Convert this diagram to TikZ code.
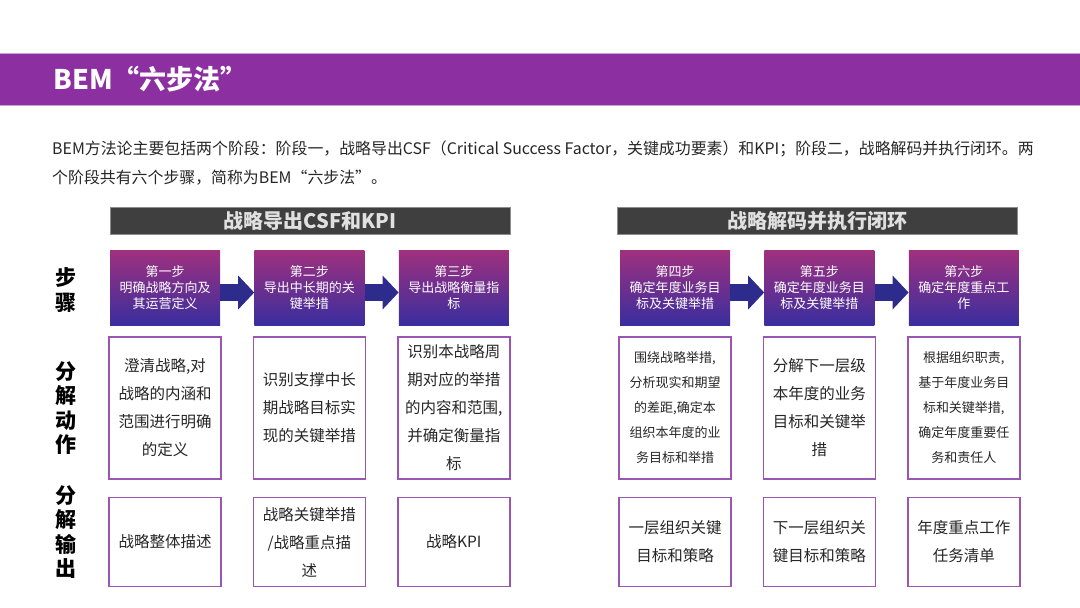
\documentclass[tikz,border=0pt]{standalone}
\usepackage{fontspec}
\setmainfont{Noto Sans CJK SC}
\usepackage{tikz}
\usetikzlibrary{arrows.meta,positioning}
\definecolor{bempurple}{HTML}{8B2FA1}
\definecolor{bemedge}{HTML}{C9A2D9}
\definecolor{bardark}{HTML}{3F3F3F}
\definecolor{steptop}{HTML}{A0307E}
\definecolor{stepbot}{HTML}{3A2E9E}
\definecolor{arrowblue}{HTML}{2D2B8C}
\definecolor{boxline}{HTML}{9A56B2}
\definecolor{bodytext}{HTML}{262626}
\tikzset{
  stepbox/.style={
    top color=steptop,
    bottom color=stepbot,
    minimum width=110pt,
    minimum height=75pt,
    inner sep=0pt,
    align=center,
    text=white,
    font=\fontsize{13}{16}\selectfont
  },
  actbox/.style={
    draw=boxline,
    fill=white,
    line width=1.5pt,
    minimum width=112pt,
    minimum height=142pt,
    inner sep=0pt,
    align=center,
    text=bodytext,
    font=\fontsize{15.5}{28}\selectfont
  },
  smallact/.style={
    actbox,
    font=\fontsize{13}{25}\selectfont
  },
  outbox/.style={
    actbox,
    minimum height=89pt
  },
  headbar/.style={
    fill=bardark,
    draw=black!45,
    minimum width=400pt,
    minimum height=27pt,
    inner sep=0pt,
    text=white!88!black,
    font=\bfseries\fontsize{20}{24}\selectfont
  },
  rowlabel/.style={
    align=center,
    font=\bfseries\fontsize{21}{24.5}\selectfont
  },
  steparrow/.style={
    -{Triangle[length=16pt,width=33pt]},
    line width=17pt,
    draw=arrowblue
  }
}

\begin{document}
\begin{tikzpicture}[x=1pt,y=-1pt,node distance=34pt]
  \useasboundingbox (0,0) rectangle (1080,608);

  \node[fill=bempurple, draw=bemedge, line width=1.2pt, minimum width=1082pt, minimum height=52pt, inner sep=0pt, anchor=north west] (titlebar) at (-1,53) {};
  \node[anchor=west, text=white, font=\bfseries\fontsize{27}{32}\selectfont] (title) at (50,79) {BEM“六步法”};

  \node[anchor=base west, inner sep=0pt, align=left, text=bodytext, font=\fontsize{15.9}{29}\selectfont] (intro) at (52,183)
    {BEM方法论主要包括两个阶段：阶段一，战略导出CSF（Critical Success Factor，关键成功要素）和KPI；阶段二，战略解码并执行闭环。两\\
     个阶段共有六个步骤，简称为BEM“六步法”。};

  \node[headbar] (hd1) at (310,220.5) {战略导出CSF和KPI};
  \node[headbar] (hd2) at (817.5,220.5) {战略解码并执行闭环};

  \node[stepbox] (step1) at (165,287.5) {第一步\\明确战略方向及\\其运营定义};
  \node[stepbox, right=of step1] (step2) {第二步\\导出中长期的关\\键举措};
  \node[stepbox, right=of step2] (step3) {第三步\\导出战略衡量指\\标};
  \node[stepbox] (step4) at (675,287.5) {第四步\\确定年度业务目\\标及关键举措};
  \node[stepbox, right=of step4] (step5) {第五步\\确定年度业务目\\标及关键举措};
  \node[stepbox, right=of step5] (step6) {第六步\\确定年度重点工\\作};

  \draw[steparrow] ([yshift=-5pt]step1.east) -- ([yshift=-5pt]step2.west);
  \draw[steparrow] ([yshift=-5pt]step2.east) -- ([yshift=-5pt]step3.west);
  \draw[steparrow] ([yshift=-5pt]step4.east) -- ([yshift=-5pt]step5.west);
  \draw[steparrow] ([yshift=-5pt]step5.east) -- ([yshift=-5pt]step6.west);

  \node[actbox, below=11pt of step1] (act1) {澄清战略,对\\战略的内涵和\\范围进行明确\\的定义};
  \node[actbox, below=11pt of step2] (act2) {识别支撑中长\\期战略目标实\\现的关键举措};
  \node[actbox, below=11pt of step3] (act3) {识别本战略周\\期对应的举措\\的内容和范围,\\并确定衡量指\\标};
  \node[smallact, below=11pt of step4] (act4) {围绕战略举措,\\分析现实和期望\\的差距,确定本\\组织本年度的业\\务目标和举措};
  \node[actbox, below=11pt of step5] (act5) {分解下一层级\\本年度的业务\\目标和关键举\\措};
  \node[smallact, below=11pt of step6] (act6) {根据组织职责,\\基于年度业务目\\标和关键举措,\\确定年度重要任\\务和责任人};

  \node[outbox, below=17pt of act1] (out1) {战略整体描述};
  \node[outbox, below=17pt of act2] (out2) {战略关键举措\\/战略重点描\\述};
  \node[outbox, below=17pt of act3] (out3) {战略KPI};
  \node[outbox, below=17pt of act4] (out4) {一层组织关键\\目标和策略};
  \node[outbox, below=17pt of act5] (out5) {下一层组织关\\键目标和策略};
  \node[outbox, below=17pt of act6] (out6) {年度重点工作\\任务清单};

  \node[rowlabel] (lbstep) at (66,290) {步\\骤};
  \node[rowlabel] (lbact) at (66,408) {分\\解\\动\\作};
  \node[rowlabel] (lbout) at (66,532) {分\\解\\输\\出};
\end{tikzpicture}
\end{document}
